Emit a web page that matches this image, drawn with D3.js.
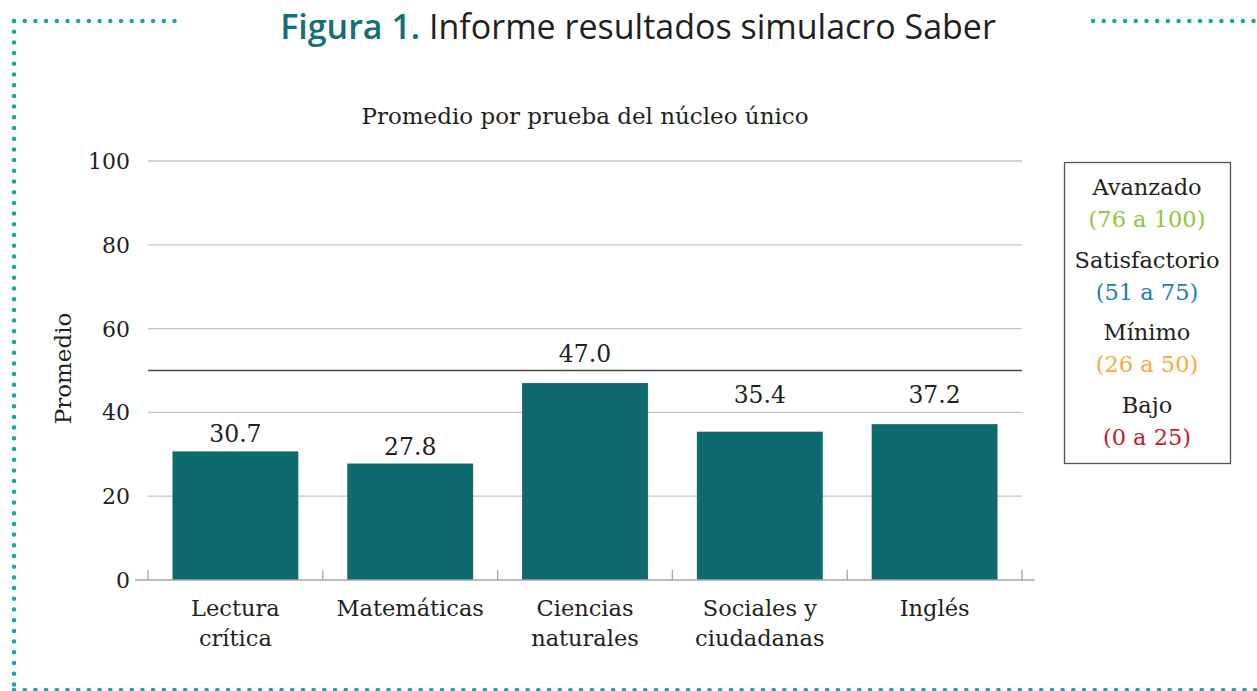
<!DOCTYPE html>
<html>
<head>
<meta charset="utf-8">
<script src="https://cdn.jsdelivr.net/npm/d3@7"></script>
<style>
  body { margin: 0; background: #fff; }
  svg text { font-family: "DejaVu Serif", serif; fill: #231f20; }
</style>
</head>
<body>
<div id="chart"></div>
<script>
// data
const categories = [["Lectura", "crítica"], ["Matemáticas"], ["Ciencias", "naturales"], ["Sociales y", "ciudadanas"], ["Inglés"]];
const values = [30.7, 27.8, 47.0, 35.4, 37.2];
const yTicks = [0, 20, 40, 60, 80, 100];
const legendLabels = ["Avanzado", "Satisfactorio", "Mínimo", "Bajo"];
const legendRanges = ["(76 a 100)", "(51 a 75)", "(26 a 50)", "(0 a 25)"];
const legendColors = ["#8dc63f", "#1b7cc3", "#f9a83f", "#c8202f"];
const refLine = 50;

const width = 1257, height = 691;
const teal = "#0f6a6d";
const dotColor = "#1aa2b2";

const svg = d3.select("#chart").append("svg")
  .attr("width", width)
  .attr("height", height);

// dotted frame
const dotted = (x1, y1, x2, y2) => svg.append("line")
  .attr("x1", x1).attr("y1", y1).attr("x2", x2).attr("y2", y2)
  .attr("stroke", dotColor)
  .attr("stroke-width", 4.5)
  .attr("stroke-linecap", "round")
  .attr("stroke-dasharray", "0 10.7");
dotted(14, 21, 184, 21);
dotted(1093, 21, 1257, 21);
dotted(14, 21, 14, 690);
dotted(14, 690, 1257, 690);

// title
const title = svg.append("text")
  .attr("x", 638)
  .attr("y", 39)
  .attr("text-anchor", "middle")
  .style("font-family", "'Open Sans', sans-serif")
  .style("font-size", "34px");
title.append("tspan").text("Figura 1. ").style("font-weight", "600").style("fill", "#137175");
title.append("tspan").text("Informe resultados simulacro Saber");

// subtitle
svg.append("text")
  .attr("x", 585)
  .attr("y", 124)
  .attr("text-anchor", "middle")
  .style("font-size", "23px")
  .text("Promedio por prueba del núcleo único");

const x = d3.scaleBand()
  .domain(d3.range(values.length))
  .range([148, 1022])
  .paddingInner(0.28)
  .paddingOuter(0.14);

const y = d3.scaleLinear()
  .domain([0, 100])
  .range([580, 161]);

// gridlines
svg.append("g")
  .selectAll("line")
  .data(yTicks.slice(1))
  .join("line")
  .attr("x1", 148).attr("x2", 1022)
  .attr("y1", d => y(d)).attr("y2", d => y(d))
  .attr("stroke", "#c4c4c4")
  .attr("stroke-width", 1.3);

// reference line at 50
svg.append("line")
  .attr("x1", 148).attr("x2", 1022)
  .attr("y1", y(refLine)).attr("y2", y(refLine))
  .attr("stroke", "#4a4a4a")
  .attr("stroke-width", 1.3);

// y tick labels
svg.append("g")
  .selectAll("text")
  .data(yTicks)
  .join("text")
  .attr("x", 130)
  .attr("y", d => y(d))
  .attr("dy", "0.36em")
  .attr("text-anchor", "end")
  .style("font-size", "22px")
  .text(d => d);

// y axis title
svg.append("text")
  .attr("transform", `translate(71, ${y(50) - 2}) rotate(-90)`)
  .attr("text-anchor", "middle")
  .style("font-size", "23px")
  .text("Promedio");

// bars
svg.append("g")
  .selectAll("rect")
  .data(values)
  .join("rect")
  .attr("x", (d, i) => x(i))
  .attr("y", d => y(d))
  .attr("width", x.bandwidth())
  .attr("height", d => y(0) - y(d))
  .attr("fill", teal);

// value labels: sit above the bar, pushed over a grid line if they would cross it
const lineYs = yTicks.slice(1).concat([refLine]).map(v => y(v));
function labelY(v) {
  let base = y(v) - 9;
  lineYs.forEach(ly => {
    if (ly > base - 19 && ly < base + 4) base = ly - 9;
  });
  return base;
}
svg.append("g")
  .selectAll("text")
  .data(values)
  .join("text")
  .attr("x", (d, i) => x(i) + x.bandwidth() / 2)
  .attr("y", d => labelY(d))
  .attr("text-anchor", "middle")
  .style("font-size", "23.5px")
  .text(d => d.toFixed(1));

// x axis line and ticks
svg.append("line")
  .attr("x1", 135).attr("x2", 1035)
  .attr("y1", y(0)).attr("y2", y(0))
  .attr("stroke", "#a6a6a6")
  .attr("stroke-width", 1.3);

const step = x.step();
svg.append("g")
  .selectAll("line")
  .data(d3.range(values.length + 1))
  .join("line")
  .attr("x1", i => x(0) - x.paddingOuter() * step + i * step)
  .attr("x2", i => x(0) - x.paddingOuter() * step + i * step)
  .attr("y1", y(0))
  .attr("y2", y(0) - 10)
  .attr("stroke", "#a6a6a6")
  .attr("stroke-width", 1.3);

// category labels
svg.append("g")
  .selectAll("text")
  .data(categories)
  .join("text")
  .attr("x", (d, i) => x(i) + x.bandwidth() / 2)
  .attr("y", 616)
  .attr("text-anchor", "middle")
  .style("font-size", "22.5px")
  .selectAll("tspan")
  .data(d => d)
  .join("tspan")
  .attr("x", function() { return this.parentNode.getAttribute("x"); })
  .attr("dy", (d, i) => i === 0 ? 0 : 30)
  .text(d => d);

// legend
const legend = svg.append("g");
legend.append("rect")
  .attr("x", 1064.5).attr("y", 162.5)
  .attr("width", 166).attr("height", 301)
  .attr("fill", "none")
  .attr("stroke", "#555")
  .attr("stroke-width", 1.3);

legendLabels.forEach((label, i) => {
  const top = 195 + i * 72.5;
  legend.append("text")
    .attr("x", 1147).attr("y", top)
    .attr("text-anchor", "middle")
    .style("font-size", "22.5px")
    .text(label);
  legend.append("text")
    .attr("x", 1147).attr("y", top + 32)
    .attr("text-anchor", "middle")
    .style("font-size", "22.5px")
    .style("fill", legendColors[i])
    .text(legendRanges[i]);
});
</script>
</body>
</html>
